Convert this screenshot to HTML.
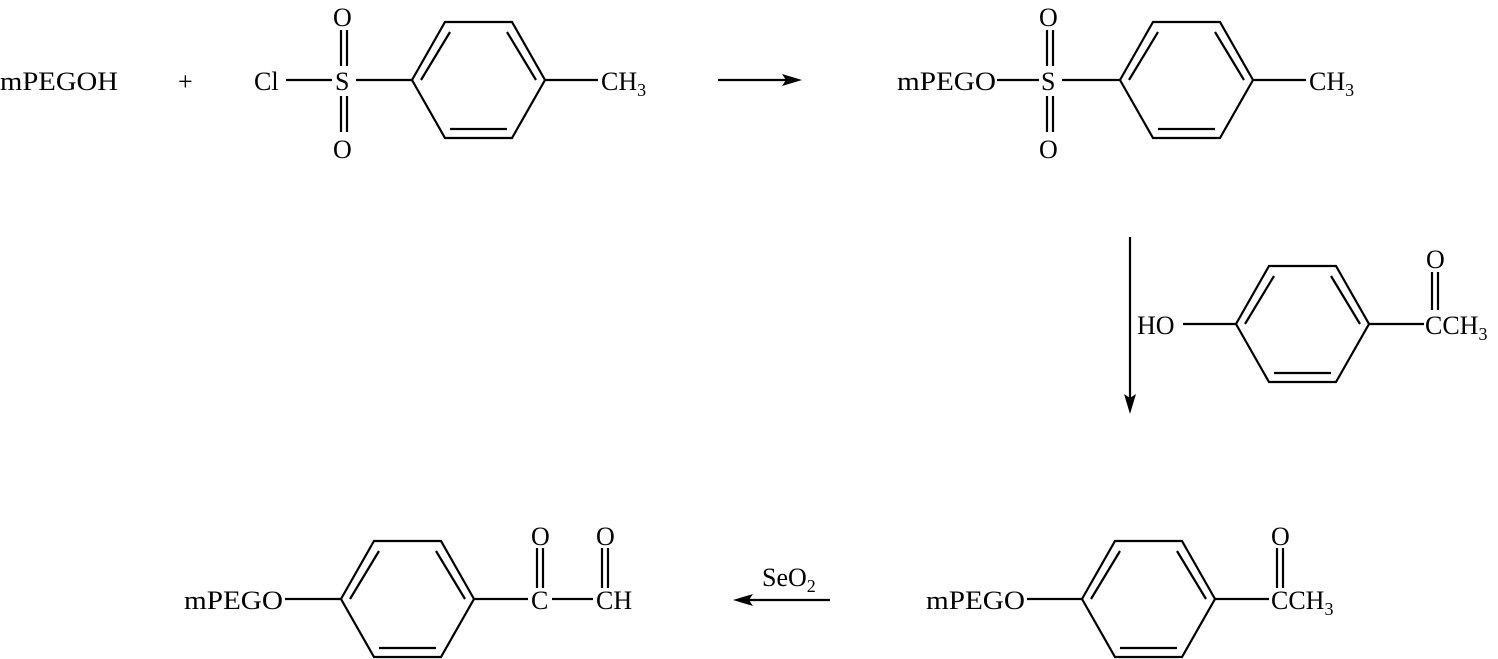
<!DOCTYPE html>
<html><head><style>body{margin:0;background:#fff}svg{display:block}text{font-family:"Liberation Serif",serif;font-size:26px;fill:#000}</style></head>
<body>
<svg width="1498" height="659" viewBox="0 0 1498 659" xmlns="http://www.w3.org/2000/svg">
<defs>
<g id="ring" fill="none" stroke="#000" stroke-width="2.2">
<polygon points="0,0 33,-58 100,-58 133,0 100,58 33,58"/>
<line x1="9" y1="0" x2="38" y2="-48"/>
<line x1="124" y1="0" x2="95" y2="-48"/>
<line x1="38" y1="49" x2="95" y2="49"/>
</g>
</defs>
<g stroke="#000" stroke-width="2.2" fill="none">
<line x1="286" y1="80" x2="332" y2="80"/>
<line x1="356" y1="80" x2="412" y2="80"/>
<line x1="341" y1="30" x2="341" y2="66"/><line x1="347" y1="30" x2="347" y2="66"/>
<line x1="341" y1="96" x2="341" y2="132"/><line x1="347" y1="96" x2="347" y2="132"/>
<line x1="545" y1="80" x2="598" y2="80"/>
<line x1="718" y1="80" x2="790" y2="80"/>
<line x1="997" y1="80" x2="1039" y2="80"/>
<line x1="1062" y1="80" x2="1120" y2="80"/>
<line x1="1047" y1="30" x2="1047" y2="66"/><line x1="1053" y1="30" x2="1053" y2="66"/>
<line x1="1047" y1="96" x2="1047" y2="132"/><line x1="1053" y1="96" x2="1053" y2="132"/>
<line x1="1253" y1="80" x2="1306" y2="80"/>
<line x1="1130" y1="237" x2="1130" y2="402"/>
<line x1="1183" y1="324" x2="1236" y2="324"/>
<line x1="1369" y1="324" x2="1424" y2="324"/>
<line x1="1432" y1="272" x2="1432" y2="310"/><line x1="1438" y1="272" x2="1438" y2="310"/>
<line x1="1027" y1="599" x2="1082" y2="599"/>
<line x1="1215" y1="599" x2="1269" y2="599"/>
<line x1="1277" y1="548" x2="1277" y2="588"/><line x1="1283" y1="548" x2="1283" y2="588"/>
<line x1="830" y1="600" x2="745" y2="600"/>
<line x1="285" y1="599" x2="341" y2="599"/>
<line x1="473" y1="599" x2="528" y2="599"/>
<line x1="552" y1="599" x2="593" y2="599"/>
<line x1="537" y1="548" x2="537" y2="588"/><line x1="543" y1="548" x2="543" y2="588"/>
<line x1="602" y1="548" x2="602" y2="588"/><line x1="608" y1="548" x2="608" y2="588"/>
</g>
<g fill="#000">
<polygon points="802,80 782,74 786,80 782,86"/>
<polygon points="1130,414 1124,394 1130,398 1136,394"/>
<polygon points="733,600 753,594 749,600 753,606"/>
</g>
<use href="#ring" x="412" y="80"/>
<use href="#ring" x="1120" y="80"/>
<use href="#ring" x="1236" y="324"/>
<use href="#ring" x="1082" y="599"/>
<use href="#ring" x="341" y="599"/>
<text x="0" y="90" textLength="118" lengthAdjust="spacingAndGlyphs">mPEGOH</text>
<text x="178" y="90">+</text>
<text x="254" y="90">Cl</text>
<text x="335" y="90">S</text>
<text x="333" y="26">O</text>
<text x="333" y="158">O</text>
<text x="601" y="90">CH<tspan font-size="18" dy="6">3</tspan></text>
<text x="897" y="90" textLength="99" lengthAdjust="spacingAndGlyphs">mPEGO</text>
<text x="1041" y="90">S</text>
<text x="1039" y="26">O</text>
<text x="1039" y="158">O</text>
<text x="1309" y="90">CH<tspan font-size="18" dy="6">3</tspan></text>
<text x="1137" y="334">HO</text>
<text x="1425" y="334">CCH<tspan font-size="18" dy="6">3</tspan></text>
<text x="1426" y="268">O</text>
<text x="926" y="609" textLength="99" lengthAdjust="spacingAndGlyphs">mPEGO</text>
<text x="1271" y="609">CCH<tspan font-size="18" dy="6">3</tspan></text>
<text x="1271" y="545">O</text>
<text x="762" y="586">SeO<tspan font-size="18" dy="6">2</tspan></text>
<text x="184" y="609" textLength="99" lengthAdjust="spacingAndGlyphs">mPEGO</text>
<text x="531" y="609">C</text>
<text x="596" y="609">CH</text>
<text x="531" y="545">O</text>
<text x="596" y="545">O</text>
</svg>
</body></html>
